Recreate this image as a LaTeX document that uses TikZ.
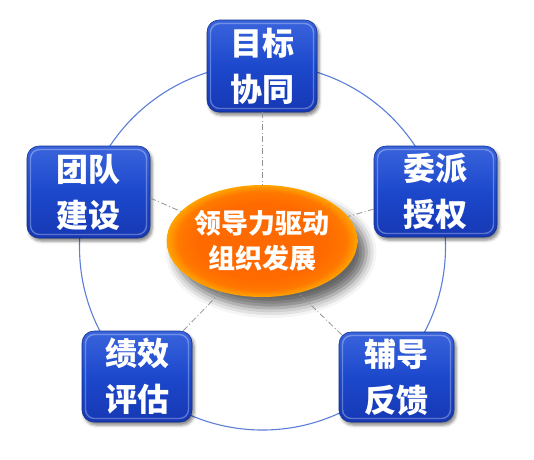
\documentclass[tikz,border=0pt]{standalone}
\usepackage{fontspec}
\newfontfamily\cjk{Noto Sans CJK SC}
\usetikzlibrary{shapes.geometric,shadows.blur,calc}
\definecolor{bluetop}{HTML}{3A64DC}
\definecolor{bluemid}{HTML}{1C48CC}
\definecolor{bluebot}{HTML}{1638B4}
\definecolor{blueedge}{HTML}{14308F}
\definecolor{ringblue}{HTML}{5C7DD8}
\definecolor{orA}{HTML}{FF6A00}
\definecolor{orB}{HTML}{FF7800}
\definecolor{orC}{HTML}{FFA400}
\pgfdeclareradialshading{orangeball}{\pgfpoint{0bp}{0bp}}{color(0bp)=(orA); color(17bp)=(orA); color(22bp)=(orB); color(25bp)=(orC); color(50bp)=(orC)}
\tikzset{
  card/.style={rectangle, rounded corners=12pt, inner sep=0pt, align=center,
    draw=blueedge, line width=0.6pt,
    top color=bluetop, bottom color=bluebot, middle color=bluemid,
    text=white, font=\cjk\bfseries\fontsize{32}{46}\selectfont,
    blur shadow={shadow xshift=2pt, shadow yshift=-3pt, shadow blur radius=3pt, shadow opacity=50},
    path picture={\draw[white, opacity=.3, line width=1.4pt, rounded corners=9pt]
      ([shift={(3.5pt,-3.5pt)}]path picture bounding box.north west) rectangle
      ([shift={(-3.5pt,3.5pt)}]path picture bounding box.south east);}},
  hub/.style={ellipse, inner sep=0pt, align=center, minimum width=174pt, minimum height=112pt,
    shading=orangeball, text=white, font=\cjk\bfseries\fontsize{27}{35}\selectfont,
    blur shadow={shadow xshift=9pt, shadow yshift=-11pt, shadow blur radius=10pt, shadow opacity=60}},
  link/.style={draw=gray!85, line width=0.8pt, dash pattern=on 6pt off 2.5pt on 1pt off 2.5pt},
  ring/.style={draw=ringblue, line width=1.1pt}
}
\begin{document}
\begin{tikzpicture}[x=1pt,y=-1pt]
\useasboundingbox (0,0) rectangle (534,459);
\coordinate (C) at (262.5,247);
\draw[ring] (C) circle [radius=183pt];
\node[hub] (ell) at (262,241) {领导力驱动\\组织发展};
\node[card, minimum width=110pt, minimum height=92pt] (top) at (262,66) {目标\\协同};
\node[card, minimum width=123pt, minimum height=92pt] (left) at (88.5,192) {团队\\建设};
\node[card, minimum width=123pt, minimum height=91pt] (right) at (435.5,191.5) {委派\\授权};
\node[card, minimum width=110pt, minimum height=91pt] (bl) at (137,376.5) {绩效\\评估};
\node[card, minimum width=115pt, minimum height=90pt] (br) at (396.5,377) {辅导\\反馈};
\coordinate (pl) at ($(left.east)+(0,6)$);
\coordinate (pbl) at ($(bl.north east)+(-9,0)$);
\coordinate (pbr) at ($(br.north west)+(3,3)$);
\draw[link] (top) -- (ell);
\draw[link] (pl) -- (ell.160);
\draw[link] (right) -- (ell);
\draw[link] (pbl) -- (ell.-129);
\draw[link] (pbr) -- (ell.-55);
\end{tikzpicture}
\end{document}
